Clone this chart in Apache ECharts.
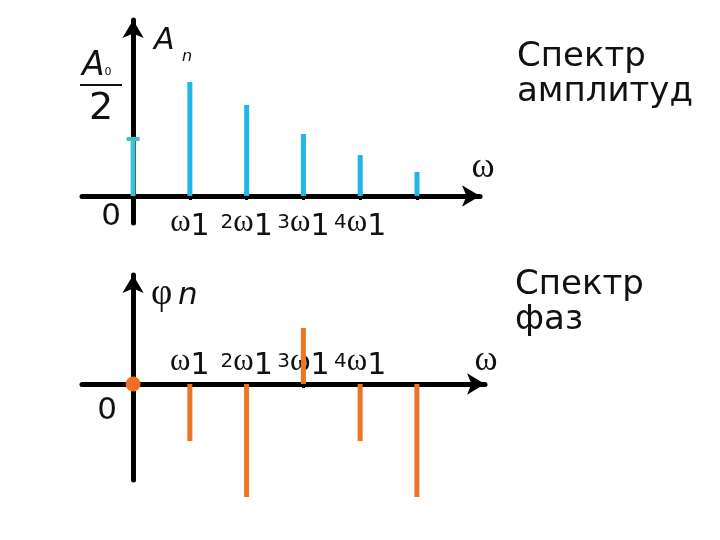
<!DOCTYPE html>
<html><head><meta charset="utf-8">
<script src="https://cdn.jsdelivr.net/npm/echarts@6/dist/echarts.min.js"></script>
<style>html,body{margin:0;padding:0;background:#fff}#c{width:720px;height:540px}</style>
</head><body><div id="c"></div>
<script>
// harmonic index n (frequency = n * ω1)
const harmonics = [1, 2, 3, 4, 5];
const tickLabels = ['ω1', '2ω1', '3ω1', '4ω1'];
const tickValues = [1, 2, 3, 4];
const amplitudeDC = 57;                 // A0/2
const amplitudes = [114, 91, 62, 41, 24];
const phaseDC = 0;
const phases = [-57, -113, 56, -57, -113];

const ampData = harmonics.map((n, i) => [n, amplitudes[i]]);
const phaseData = harmonics.map((n, i) => [n, phases[i]]);

const CYAN = '#1fb6ea', CYAN_DC = '#3cc3d3', ORANGE = '#ec7425';

function fmt(v) {
  const i = tickValues.indexOf(v);
  if (i < 0) return '';
  const m = tickLabels[i].match(/^(\d*)ω(\d)$/);
  return (m[1] ? '{p|' + m[1] + '}' : '') + '{w|ω}{s|' + m[2] + '}';
}
const rich = {
  p: {fontFamily: 'DejaVu Sans', fontSize: 20, color: '#111', verticalAlign: 'middle'},
  w: {fontFamily: 'Liberation Serif', fontSize: 31, color: '#111', verticalAlign: 'middle'},
  s: {fontFamily: 'DejaVu Sans', fontSize: 30, color: '#111', verticalAlign: 'middle', padding: [8, 0, 0, 0]}
};

function xAxisCfg(gi, max, inside, margin) {
  return {
    gridIndex: gi, type: 'value', min: -0.9, max: max,
    axisLine: {onZero: true, lineStyle: {color: '#000', width: 5}, symbol: ['none', 'arrow'], symbolSize: [16, 18]},
    axisTick: {show: true, customValues: [1, 2, 3, 4, 5], length: 4, lineStyle: {color: '#000', width: 3}},
    axisLabel: {show: true, customValues: tickValues, inside: inside, margin: margin, formatter: fmt, rich: rich},
    splitLine: {show: false}
  };
}
function yAxisCfg(gi, min, max) {
  return {
    gridIndex: gi, type: 'value', min: min, max: max,
    axisLine: {show: true, onZero: true, lineStyle: {color: '#000', width: 5}, symbol: ['none', 'arrow'], symbolSize: [16, 18]},
    axisTick: {show: false}, axisLabel: {show: false}, splitLine: {show: false}
  };
}

const chart = echarts.init(document.getElementById('c'), null, {renderer: 'canvas'});
chart.setOption({
  animation: false,
  backgroundColor: '#fff',
  grid: [
    {left: 82, top: 20, width: 398, height: 203},
    {left: 82, top: 275, width: 403, height: 205}
  ],
  xAxis: [xAxisCfg(0, 6.11, false, -19), xAxisCfg(1, 6.2, true, 99)],
  yAxis: [yAxisCfg(0, -27, 176), yAxisCfg(1, -96, 109)],
  series: [
    {type: 'bar', xAxisIndex: 0, yAxisIndex: 0, barWidth: 5, data: ampData, itemStyle: {color: CYAN}, z: 1},
    {type: 'bar', xAxisIndex: 0, yAxisIndex: 0, barWidth: 5, barGap: '-100%', data: [[0, amplitudeDC]], itemStyle: {color: CYAN_DC}, z: 3},
    {type: 'scatter', xAxisIndex: 0, yAxisIndex: 0, symbol: 'rect', symbolSize: [13, 4], data: [[0, amplitudeDC]], itemStyle: {color: CYAN_DC, opacity: 1}, z: 4},
    {type: 'bar', xAxisIndex: 1, yAxisIndex: 1, barWidth: 5, clip: false, data: phaseData, itemStyle: {color: ORANGE}, z: 1},
    {type: 'scatter', xAxisIndex: 1, yAxisIndex: 1, symbolSize: 15, data: [[0, phaseDC]], itemStyle: {color: '#f07020', opacity: 1}, z: 5}
  ],
  graphic: [
    // A0/2
    {type: 'text', left: 82, top: 50, style: {text: '{a|A}{b|0}', rich: {
      a: {font: 'italic 33px "DejaVu Sans"', fill: '#111', verticalAlign: 'middle'},
      b: {font: '11px "DejaVu Sans"', fill: '#111', verticalAlign: 'middle', padding: [12, 0, 0, 0]}}}},
    {type: 'line', shape: {x1: 80, y1: 85, x2: 122, y2: 85}, style: {stroke: '#111', lineWidth: 2}},
    {type: 'text', x: 101, y: 109, style: {text: '2', font: '38px "DejaVu Sans"', fill: '#111', align: 'center', verticalAlign: 'middle'}},
    // An
    {type: 'text', x: 154, y: 41, style: {text: 'A', font: 'italic 30px "DejaVu Sans"', fill: '#111', verticalAlign: 'middle'}},
    {type: 'text', x: 182, y: 57, style: {text: 'n', font: 'italic 16px "DejaVu Sans"', fill: '#111', verticalAlign: 'middle'}},
    // phi n
    {type: 'text', x: 151, y: 294, style: {text: 'φ', font: '37px "Liberation Serif"', fill: '#111', verticalAlign: 'middle'}},
    {type: 'text', x: 178, y: 296, style: {text: 'n', font: 'italic 31px "DejaVu Sans"', fill: '#111', verticalAlign: 'middle'}},
    // zeros
    {type: 'text', x: 111, y: 217, style: {text: '0', font: '31px "DejaVu Sans"', fill: '#111', align: 'center', verticalAlign: 'middle'}},
    {type: 'text', x: 107, y: 411, style: {text: '0', font: '31px "DejaVu Sans"', fill: '#111', align: 'center', verticalAlign: 'middle'}},
    // omega axis names
    {type: 'text', x: 483, y: 168, style: {text: 'ω', font: '35px "Liberation Serif"', fill: '#111', align: 'center', verticalAlign: 'middle'}},
    {type: 'text', x: 486, y: 361, style: {text: 'ω', font: '35px "Liberation Serif"', fill: '#111', align: 'center', verticalAlign: 'middle'}},
    // titles
    {type: 'text', x: 517, y: 40, style: {text: 'Спектр\nамплитуд', font: '34px "DejaVu Sans"', lineHeight: 35, fill: '#111', verticalAlign: 'top'}},
    {type: 'text', x: 515, y: 268, style: {text: 'Спектр\nфаз', font: '34px "DejaVu Sans"', lineHeight: 35, fill: '#111', verticalAlign: 'top'}}
  ]
});
</script>
</body></html>
